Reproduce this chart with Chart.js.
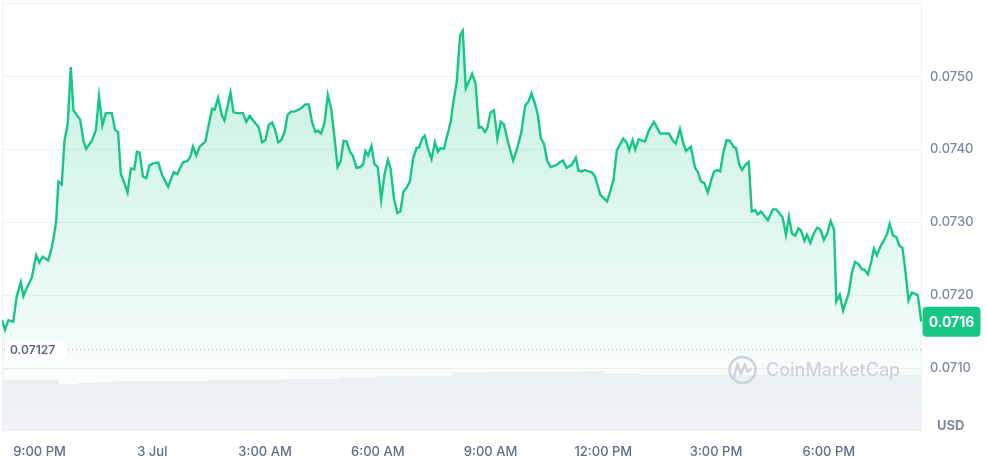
<!DOCTYPE html>
<html><head><meta charset="utf-8">
<script src="https://cdn.jsdelivr.net/npm/chart.js@4/dist/chart.umd.min.js"></script>
<style>html,body{margin:0;padding:0;background:#fff}#wrap{width:987px;height:457px;position:relative}</style>
</head><body><div id="wrap"><canvas id="c" width="987" height="457"></canvas></div>
<script>
// hours since 8:00 PM, 2 Jul
const hours = [
0,0.08,0.17,0.30,0.39,0.50,0.57,0.66,0.79,0.91,
0.99,1.08,1.23,1.32,1.37,1.44,1.50,1.59,1.66,1.75,
1.83,1.90,2.08,2.17,2.24,2.39,2.50,2.58,2.67,2.76,
2.92,3.01,3.09,3.16,3.23,3.34,3.43,3.52,3.59,3.66,
3.75,3.84,3.92,4.02,4.16,4.26,4.42,4.57,4.66,4.82,
4.93,5.01,5.08,5.17,5.26,5.41,5.59,5.66,5.75,5.85,
5.92,6.08,6.16,6.25,6.41,6.50,6.59,6.74,6.83,6.92,
7.01,7.10,7.19,7.26,7.35,7.43,7.52,7.60,7.69,7.78,
7.94,8.07,8.16,8.25,8.34,8.41,8.49,8.58,8.67,8.76,
8.85,8.93,9.01,9.09,9.17,9.26,9.34,9.43,9.54,9.61,
9.67,9.74,9.83,9.91,10.00,10.09,10.18,10.27,10.34,10.43,
10.52,10.60,10.68,10.76,10.85,10.94,11.03,11.10,11.18,11.25,
11.33,11.43,11.52,11.60,11.67,11.76,11.85,11.94,12.01,12.10,
12.19,12.26,12.34,12.42,12.51,12.60,12.69,12.76,12.85,12.91,
13.00,13.09,13.18,13.27,13.36,13.45,13.60,13.71,13.82,13.92,
14.01,14.09,14.18,14.26,14.34,14.42,14.51,14.60,14.76,14.85,
14.93,15.02,15.16,15.27,15.34,15.43,15.51,15.60,15.69,15.78,
15.92,16.10,16.18,16.27,16.36,16.53,16.62,16.69,16.78,16.85,
16.94,17.11,17.20,17.35,17.51,17.75,17.84,17.93,18.04,18.13,
18.20,18.33,18.44,18.51,18.60,18.69,18.78,18.87,18.95,19.04,
19.11,19.19,19.28,19.37,19.46,19.53,19.62,19.69,19.78,19.87,
19.95,20.04,20.11,20.20,20.29,20.38,20.51,20.60,20.68,20.77,
20.86,20.94,21.02,21.11,21.19,21.26,21.35,21.42,21.51,21.60,
21.69,21.78,21.87,21.96,22.05,22.14,22.20,22.29,22.38,22.53,
22.61,22.70,22.79,22.88,22.95,23.04,23.13,23.20,23.28,23.38,
23.46,23.55,23.62,23.71,23.80,23.88,23.96,24.04,24.12,24.21,
24.30,24.37,24.46];

const prices = [
0.07166,0.07153,0.07166,0.07164,0.07198,0.07218,0.07199,0.07210,0.07224,0.07255,
0.07245,0.07253,0.07248,0.07265,0.07278,0.07301,0.07356,0.07352,0.07411,0.07436,
0.07513,0.07454,0.07441,0.07411,0.07401,0.07412,0.07427,0.07473,0.07433,0.07450,
0.07450,0.07427,0.07424,0.07367,0.07358,0.07341,0.07374,0.07373,0.07397,0.07396,
0.07363,0.07361,0.07378,0.07381,0.07382,0.07365,0.07349,0.07369,0.07366,0.07383,
0.07384,0.07390,0.07404,0.07392,0.07404,0.07411,0.07456,0.07455,0.07471,0.07447,
0.07440,0.07478,0.07451,0.07450,0.07450,0.07438,0.07446,0.07436,0.07431,0.07410,
0.07413,0.07434,0.07437,0.07428,0.07410,0.07413,0.07424,0.07448,0.07452,0.07452,
0.07456,0.07462,0.07462,0.07438,0.07424,0.07426,0.07422,0.07436,0.07475,0.07456,
0.07415,0.07376,0.07384,0.07412,0.07411,0.07397,0.07391,0.07375,0.07376,0.07380,
0.07398,0.07392,0.07405,0.07380,0.07376,0.07331,0.07367,0.07386,0.07374,0.07333,
0.07313,0.07315,0.07342,0.07347,0.07356,0.07388,0.07402,0.07403,0.07415,0.07419,
0.07402,0.07387,0.07410,0.07397,0.07402,0.07401,0.07420,0.07438,0.07465,0.07493,
0.07557,0.07563,0.07484,0.07493,0.07504,0.07491,0.07430,0.07431,0.07424,0.07429,
0.07451,0.07454,0.07415,0.07438,0.07434,0.07413,0.07385,0.07402,0.07424,0.07460,
0.07466,0.07477,0.07463,0.07447,0.07415,0.07408,0.07384,0.07376,0.07379,0.07383,
0.07385,0.07375,0.07379,0.07389,0.07371,0.07370,0.07372,0.07370,0.07369,0.07363,
0.07338,0.07329,0.07342,0.07358,0.07399,0.07415,0.07410,0.07399,0.07413,0.07400,
0.07414,0.07411,0.07425,0.07438,0.07422,0.07422,0.07413,0.07408,0.07428,0.07408,
0.07398,0.07404,0.07375,0.07370,0.07356,0.07354,0.07341,0.07358,0.07370,0.07372,
0.07370,0.07395,0.07413,0.07412,0.07404,0.07402,0.07379,0.07372,0.07379,0.07383,
0.07315,0.07317,0.07311,0.07315,0.07309,0.07303,0.07318,0.07318,0.07313,0.07307,
0.07283,0.07308,0.07285,0.07282,0.07292,0.07289,0.07275,0.07283,0.07272,0.07285,
0.07293,0.07290,0.07276,0.07285,0.07302,0.07290,0.07192,0.07201,0.07179,0.07203,
0.07230,0.07246,0.07243,0.07236,0.07235,0.07229,0.07246,0.07264,0.07255,0.07268,
0.07275,0.07284,0.07298,0.07282,0.07280,0.07268,0.07265,0.07233,0.07193,0.07204,
0.07202,0.07200,0.07164];

// 24h volume (relative units), half-hour buckets
const volHours = [
0.25,0.75,1.25,1.75,2.25,2.75,3.25,3.75,4.25,4.75,
5.25,5.75,6.25,6.75,7.25,7.75,8.25,8.75,9.25,9.75,
10.25,10.75,11.25,11.75,12.25,12.75,13.25,13.75,14.25,14.75,
15.25,15.75,16.25,16.75,17.25,17.75,18.25,18.75,19.25,19.75,
20.25,20.75,21.25,21.75,22.25,22.75,23.25,23.75,24.25];
const volumes = [
51,51,51,46.7,47.7,48.7,49.7,49.7,49.7,49.7,
49.7,50.7,50.7,50.7,50.7,51.7,51.7,51.7,53.3,53.3,
55,55,55,55,58.5,58.5,58.7,58.7,58.7,58.7,
58.7,59.5,57,57,56,56,56,56,56,56,
56,56,56,56,56,56,56,56,56];

const xTickHours = [1,4,7,10,13,16,19,22];
const xTickLabels = ['9:00 PM','3 Jul','3:00 AM','6:00 AM','9:00 AM','12:00 PM','3:00 PM','6:00 PM'];
const yTicks = [0.0710,0.0720,0.0730,0.0740,0.0750];
const openPrice = 0.07127;
const lastLabel = '0.0716';

const FONT = 'Inter, "Noto Sans", sans-serif';
const GREEN = '#16c784';

const decor = {
  id: 'decor',
  beforeDatasetsDraw(chart) {
    const {ctx, chartArea: a} = chart;
    ctx.save();
    ctx.strokeStyle = '#eff2f5';
    ctx.lineWidth = 1;
    ctx.beginPath();
    ctx.moveTo(a.left + 0.5, a.bottom); ctx.lineTo(a.left + 0.5, a.top + 0.5);
    ctx.lineTo(a.right - 0.5, a.top + 0.5); ctx.lineTo(a.right - 0.5, a.bottom);
    ctx.stroke();
    ctx.restore();
  },
  afterDatasetsDraw(chart) {
    const {ctx, chartArea: a, scales} = chart;
    const y = scales.y;
    ctx.save();
    // watermark
    ctx.strokeStyle = '#cdd3dc';
    ctx.fillStyle = '#cdd3dc';
    ctx.lineWidth = 2.6;
    ctx.beginPath();
    ctx.arc(742.5, 370, 13, 0, Math.PI * 2);
    ctx.stroke();
    ctx.lineWidth = 2.4;
    ctx.lineJoin = 'round'; ctx.lineCap = 'round';
    ctx.beginPath();
    ctx.moveTo(734, 377); ctx.lineTo(737.5, 364); ctx.lineTo(741, 374);
    ctx.lineTo(745, 364); ctx.lineTo(747.5, 372); ctx.lineTo(751, 369);
    ctx.stroke();
    ctx.font = '500 18px ' + FONT;
    ctx.textBaseline = 'middle';
    ctx.textAlign = 'left';
    ctx.fillText('CoinMarketCap', 766, 371);

    // open price dotted line
    const oy = Math.round(y.getPixelForValue(openPrice)) + 0.5;
    ctx.strokeStyle = '#a9b0bf';
    ctx.lineWidth = 1;
    ctx.setLineDash([1, 3]);
    ctx.lineCap = 'butt';
    ctx.beginPath();
    ctx.moveTo(a.left + 2, oy); ctx.lineTo(a.right, oy);
    ctx.stroke();
    ctx.setLineDash([]);
    ctx.fillStyle = '#ffffff';
    ctx.beginPath();
    ctx.roundRect(a.left + 3, oy - 10, 62, 20, 6);
    ctx.fill();
    ctx.fillStyle = '#58667e';
    ctx.font = '600 12px ' + FONT;
    ctx.textAlign = 'left';
    ctx.fillText(openPrice.toString(), a.left + 8, oy + 1);

    // last price tag
    const ly = y.getPixelForValue(prices[prices.length - 1]);
    ctx.fillStyle = GREEN;
    ctx.beginPath();
    ctx.roundRect(a.right + 0.5, ly - 15, 58, 30, 4);
    ctx.fill();
    ctx.fillStyle = '#ffffff';
    ctx.font = '700 14px ' + FONT;
    ctx.textAlign = 'center';
    ctx.fillText(lastLabel, a.right + 29.5, ly + 1);

    // currency label
    ctx.fillStyle = '#808a9d';
    ctx.font = '700 13px ' + FONT;
    ctx.textAlign = 'left';
    ctx.fillText('USD', 937, 426);
    ctx.restore();
  }
};

new Chart(document.getElementById('c'), {
  type: 'line',
  data: {
    datasets: [
      {
        type: 'line',
        label: 'Price',
        data: hours.map((h, i) => ({x: h, y: prices[i]})),
        borderColor: GREEN,
        borderWidth: 2.4,
        pointRadius: 0,
        tension: 0,
        fill: 'start',
        order: 0,
        yAxisID: 'y',
        backgroundColor: (c) => {
          const ch = c.chart; const area = ch.chartArea;
          if (!area) return 'rgba(22,199,132,0.15)';
          const g = ch.ctx.createLinearGradient(0, 40, 0, 420);
          g.addColorStop(0, 'rgba(22,199,132,0.24)');
          g.addColorStop(0.5, 'rgba(22,199,132,0.13)');
          g.addColorStop(1, 'rgba(22,199,132,0.0)');
          return g;
        }
      },
      {
        type: 'bar',
        label: 'Volume',
        data: volHours.map((h, i) => ({x: h, y: volumes[i]})),
        backgroundColor: '#f0f2f5',
        borderWidth: 0,
        barPercentage: 1,
        categoryPercentage: 1,
        order: 1,
        yAxisID: 'yv'
      }
    ]
  },
  options: {
    responsive: false,
    devicePixelRatio: 1,
    animation: false,
    layout: {padding: {left: 2, top: 3, right: 0, bottom: 0}},
    plugins: {legend: {display: false}, tooltip: {enabled: false}},
    scales: {
      x: {
        type: 'linear', min: 0, max: 24.48, offset: false,
        grid: {display: false, drawTicks: false},
        border: {display: false},
        afterBuildTicks: (s) => { s.ticks = xTickHours.map(v => ({value: v})); },
        afterFit: (s) => { s.height = 26; s.paddingLeft = 0; s.paddingRight = 0; },
        ticks: {
          padding: 13, maxRotation: 0, autoSkip: false,
          color: '#616e85', font: {family: FONT, size: 13, weight: '500'},
          callback: (v) => { const i = xTickHours.indexOf(v); return i >= 0 ? xTickLabels[i] : ''; }
        }
      },
      y: {
        position: 'right', min: 0.07014, max: 0.07601,
        grid: {color: '#eff2f5', drawTicks: false},
        border: {display: false},
        afterBuildTicks: (s) => { s.ticks = yTicks.map(v => ({value: v})); },
        afterFit: (s) => { s.width = 65; s.paddingTop = 0; s.paddingBottom = 0; },
        ticks: {
          padding: 8, color: '#808a9d',
          font: {family: FONT, size: 13, weight: '500'},
          callback: (v) => Number(v).toFixed(4)
        }
      },
      yv: {display: false, min: 0, max: 428}
    }
  },
  plugins: [decor]
});
</script>
</body></html>
